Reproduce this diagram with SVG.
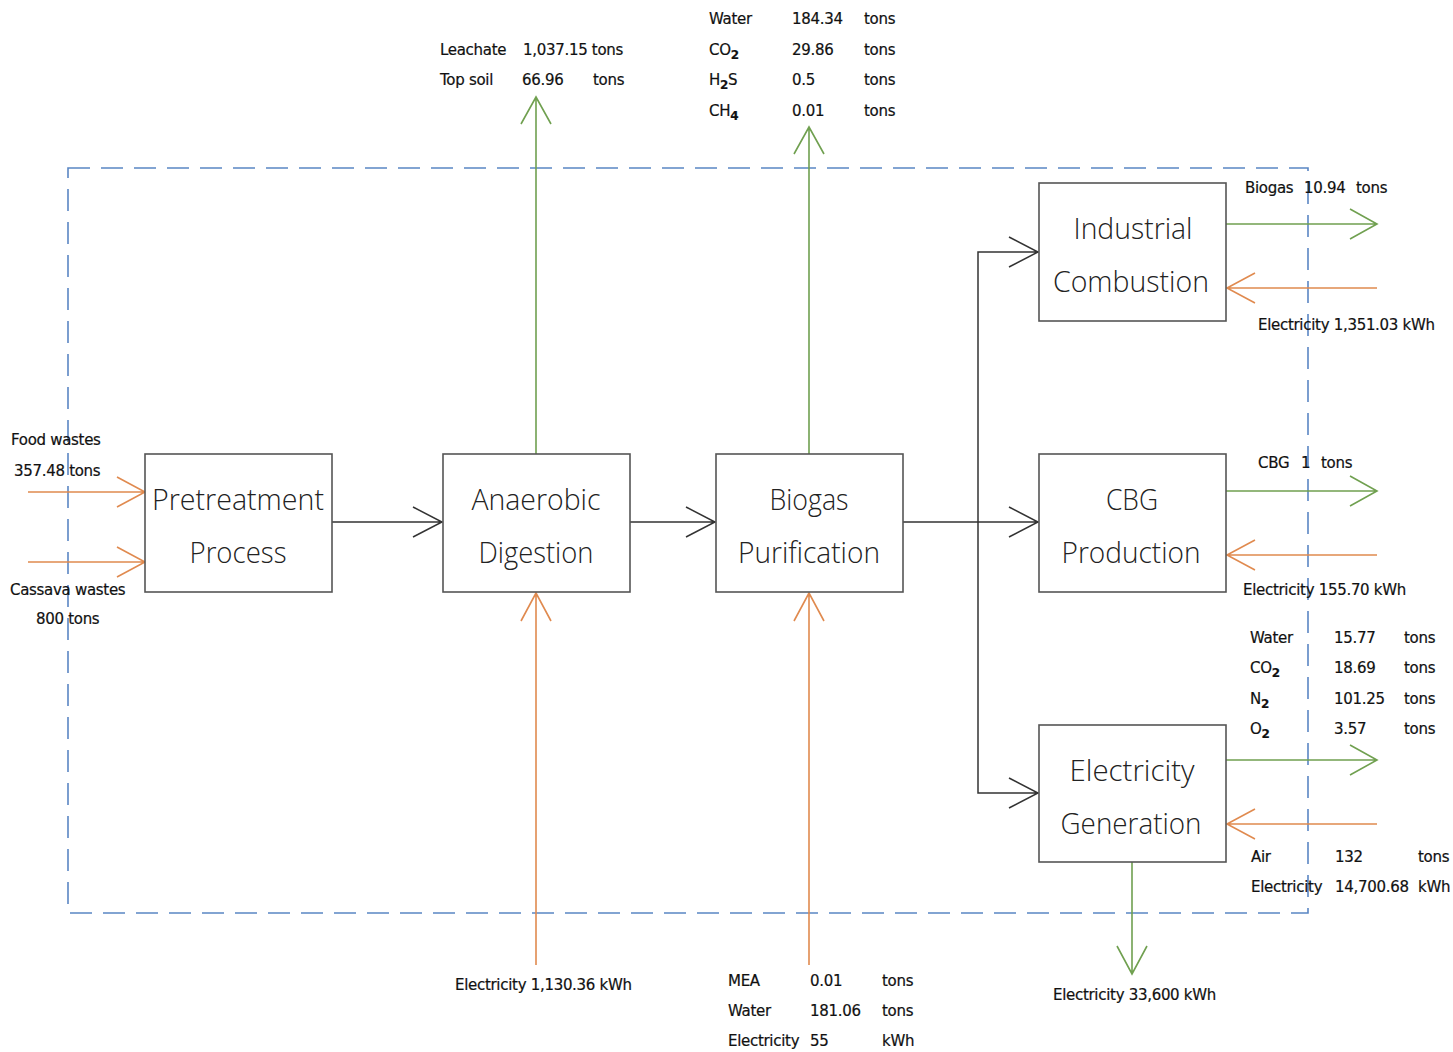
<svg xmlns="http://www.w3.org/2000/svg" width="1453" height="1052" viewBox="0 0 1453 1052">
<style>
.box{fill:#fff;stroke:#555;stroke-width:1.6}
.bl{font-family:"Open Sans","Liberation Sans",sans-serif;font-weight:300;font-size:29px;fill:#222;text-anchor:middle}
.t{font-family:"DejaVu Sans","Liberation Sans",sans-serif;font-size:15px;fill:#111;stroke:#111;stroke-width:0.2;letter-spacing:-0.3px}
.sub{font-size:12px;font-weight:bold}
.g{stroke:#70a050;stroke-width:1.6;fill:none}
.o{stroke:#e08a4f;stroke-width:1.6;fill:none}
.k{stroke:#333;stroke-width:1.5;fill:none}
.bound{stroke:#5a86c4;stroke-width:1.6;fill:none;stroke-dasharray:22,11}
</style>
<rect width="1453" height="1052" fill="#fff"/>
<rect class="bound" x="68" y="168" width="1240" height="745"/>

<g id="connectors">
  <path class="k" d="M332,522 H442 M413,507 L442,522 L413,537"/>
  <path class="k" d="M630,522 H715 M686,507 L715,522 L686,537"/>
  <path class="k" d="M903,522 H1038 M1009,507 L1038,522 L1009,537"/>
  <path class="k" d="M1038,252 H978 V793 H1038 M1009,237 L1038,252 L1009,267 M1009,778 L1038,793 L1009,808"/>
  <path class="g" d="M536,454 V97 M521,124 L536,97 L551,124"/>
  <path class="g" d="M809,454 V127 M794,154 L809,127 L824,154"/>
  <path class="g" d="M1226,224 H1377 M1350,209 L1377,224 L1350,239"/>
  <path class="g" d="M1226,491 H1377 M1350,476 L1377,491 L1350,506"/>
  <path class="g" d="M1226,760 H1377 M1350,745 L1377,760 L1350,775"/>
  <path class="g" d="M1132,862 V974 M1117,946 L1132,974 L1147,946"/>
  <path class="o" d="M28,492 H145 M117,477 L145,492 L117,507"/>
  <path class="o" d="M28,562 H145 M117,547 L145,562 L117,577"/>
  <path class="o" d="M536,965 V593 M521,621 L536,593 L551,621"/>
  <path class="o" d="M809,965 V593 M794,621 L809,593 L824,621"/>
  <path class="o" d="M1377,288 H1227 M1255,273 L1227,288 L1255,303"/>
  <path class="o" d="M1377,555 H1227 M1255,540 L1227,555 L1255,570"/>
  <path class="o" d="M1377,824 H1227 M1255,809 L1227,824 L1255,839"/>
</g>

<g id="pretreatment">
  <rect class="box" x="145" y="454" width="187" height="138"/>
  <text class="bl" x="238" y="510" textLength="172" lengthAdjust="spacingAndGlyphs">Pretreatment</text>
  <text class="bl" x="238" y="563" textLength="97" lengthAdjust="spacingAndGlyphs">Process</text>
</g>
<g id="anaerobic">
  <rect class="box" x="443" y="454" width="187" height="138"/>
  <text class="bl" x="536" y="510" textLength="129" lengthAdjust="spacingAndGlyphs">Anaerobic</text>
  <text class="bl" x="536" y="563" textLength="115" lengthAdjust="spacingAndGlyphs">Digestion</text>
</g>
<g id="purification">
  <rect class="box" x="716" y="454" width="187" height="138"/>
  <text class="bl" x="809" y="510" textLength="79" lengthAdjust="spacingAndGlyphs">Biogas</text>
  <text class="bl" x="809" y="563" textLength="142" lengthAdjust="spacingAndGlyphs">Purification</text>
</g>
<g id="industrial">
  <rect class="box" x="1039" y="183" width="187" height="138"/>
  <text class="bl" x="1133" y="239" textLength="119" lengthAdjust="spacingAndGlyphs">Industrial</text>
  <text class="bl" x="1131" y="292" textLength="156" lengthAdjust="spacingAndGlyphs">Combustion</text>
</g>
<g id="cbg">
  <rect class="box" x="1039" y="454" width="187" height="138"/>
  <text class="bl" x="1132" y="510" textLength="52" lengthAdjust="spacingAndGlyphs">CBG</text>
  <text class="bl" x="1131" y="563" textLength="139" lengthAdjust="spacingAndGlyphs">Production</text>
</g>
<g id="electricity-generation">
  <rect class="box" x="1039" y="725" width="187" height="137"/>
  <text class="bl" x="1132" y="781" textLength="125" lengthAdjust="spacingAndGlyphs">Electricity</text>
  <text class="bl" x="1131" y="834" textLength="141" lengthAdjust="spacingAndGlyphs">Generation</text>
</g>

<g id="labels">
  <text class="t" x="440" y="55">Leachate</text><text class="t" x="523" y="55">1,037.15 tons</text>
  <text class="t" x="440" y="85">Top soil</text><text class="t" x="522" y="85">66.96</text><text class="t" x="593" y="85">tons</text>
  <text class="t" x="709" y="24">Water</text><text class="t" x="792" y="24">184.34</text><text class="t" x="864" y="24">tons</text>
  <text class="t" x="709" y="55">CO<tspan class="sub" dy="4">2</tspan></text><text class="t" x="792" y="55">29.86</text><text class="t" x="864" y="55">tons</text>
  <text class="t" x="709" y="85">H<tspan class="sub" dy="4">2</tspan><tspan dy="-4">S</tspan></text><text class="t" x="792" y="85">0.5</text><text class="t" x="864" y="85">tons</text>
  <text class="t" x="709" y="116">CH<tspan class="sub" dy="4">4</tspan></text><text class="t" x="792" y="116">0.01</text><text class="t" x="864" y="116">tons</text>
  <text class="t" x="11" y="445">Food wastes</text>
  <text class="t" x="14" y="476">357.48 tons</text>
  <text class="t" x="10" y="595">Cassava wastes</text>
  <text class="t" x="36" y="624">800 tons</text>
  <text class="t" x="455" y="990">Electricity 1,130.36 kWh</text>
  <text class="t" x="728" y="986">MEA</text><text class="t" x="810" y="986">0.01</text><text class="t" x="882" y="986">tons</text>
  <text class="t" x="728" y="1016">Water</text><text class="t" x="810" y="1016">181.06</text><text class="t" x="882" y="1016">tons</text>
  <text class="t" x="728" y="1046">Electricity</text><text class="t" x="810" y="1046">55</text><text class="t" x="882" y="1046">kWh</text>
  <text class="t" x="1245" y="193">Biogas</text><text class="t" x="1304" y="193">10.94</text><text class="t" x="1356" y="193">tons</text>
  <text class="t" x="1258" y="330">Electricity 1,351.03 kWh</text>
  <text class="t" x="1258" y="468">CBG</text><text class="t" x="1301" y="468">1</text><text class="t" x="1321" y="468">tons</text>
  <text class="t" x="1243" y="595">Electricity 155.70 kWh</text>
  <text class="t" x="1250" y="643">Water</text><text class="t" x="1334" y="643">15.77</text><text class="t" x="1404" y="643">tons</text>
  <text class="t" x="1250" y="673">CO<tspan class="sub" dy="4">2</tspan></text><text class="t" x="1334" y="673">18.69</text><text class="t" x="1404" y="673">tons</text>
  <text class="t" x="1250" y="704">N<tspan class="sub" dy="4">2</tspan></text><text class="t" x="1334" y="704">101.25</text><text class="t" x="1404" y="704">tons</text>
  <text class="t" x="1250" y="734">O<tspan class="sub" dy="4">2</tspan></text><text class="t" x="1334" y="734">3.57</text><text class="t" x="1404" y="734">tons</text>
  <text class="t" x="1251" y="862">Air</text><text class="t" x="1335" y="862">132</text><text class="t" x="1418" y="862">tons</text>
  <text class="t" x="1251" y="892">Electricity</text><text class="t" x="1335" y="892">14,700.68</text><text class="t" x="1418" y="892">kWh</text>
  <text class="t" x="1053" y="1000">Electricity 33,600 kWh</text>
</g>
</svg>
